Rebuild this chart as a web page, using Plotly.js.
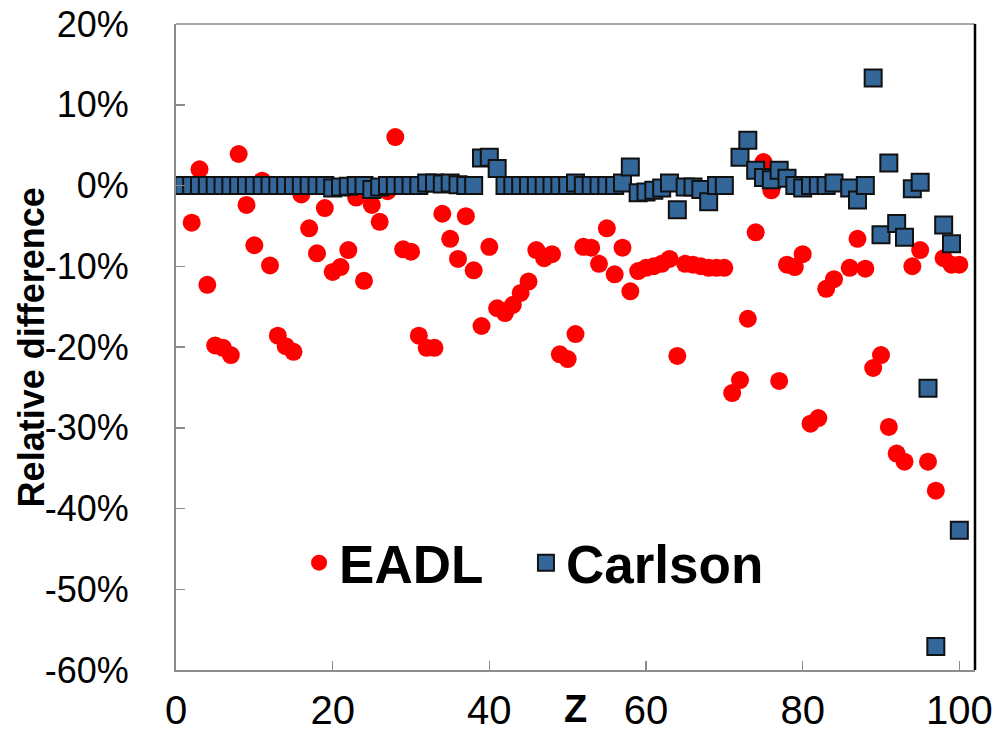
<!DOCTYPE html>
<html>
<head>
<meta charset="utf-8">
<script src="https://cdn.plot.ly/plotly-3.0.1.min.js"></script>
<style>html,body{margin:0;padding:0;background:#fff;}#chart{width:997px;height:732px;}</style>
</head>
<body>
<div id="chart"></div>
<script>
// Atomic number Z
const zValues = Array.from({length: 100}, (_, i) => i + 1);

// Relative difference (%) - EADL
const eadl = [
  0.0, -4.6, 2.0, -12.3, -19.8, -20.1, -21.0, 3.9, -2.4, -7.4,
  0.6, -9.9, -18.6, -19.9, -20.6, -1.1, -5.3, -8.4, -2.8, -10.7,
  -10.1, -8.0, -1.5, -11.8, -2.4, -4.5, -0.7, 6.0, -7.9, -8.2,
  -18.6, -20.1, -20.1, -3.5, -6.6, -9.1, -3.8, -10.5, -17.4, -7.6,
  -15.2, -15.8, -14.8, -13.3, -11.9, -8.0, -9.0, -8.5, -20.9, -21.5,
  -18.4, -7.6, -7.7, -9.7, -5.3, -11.0, -7.7, -13.1, -10.6, -10.2,
  -10.0, -9.7, -9.1, -21.1, -9.7, -9.8, -10.0, -10.2, -10.2, -10.2,
  -25.7, -24.1, -16.5, -5.8, 2.9, -0.6, -24.2, -9.8, -10.1, -8.5,
  -29.5, -28.8, -12.8, -11.6, null, -10.2, -6.6, -10.3, -22.6, -21.0,
  -29.9, -33.2, -34.2, -10.0, -8.0, -34.2, -37.8, -9.0, -9.8, -9.8
];

// Relative difference (%) - Carlson
const carlson = [
  0.0, 0.0, 0.0, 0.0, 0.0, 0.0, 0.0, 0.0, 0.0, 0.0,
  0.0, 0.0, 0.0, 0.0, 0.0, 0.0, 0.0, 0.0, 0.0, -0.3,
  -0.2, -0.1, 0.0, 0.0, -0.5, -0.2, 0.0, 0.0, 0.0, 0.0,
  0.0, 0.3, 0.3, 0.2, 0.3, 0.1, 0.0, 0.0, 3.4, 3.5,
  2.1, 0.0, 0.0, 0.0, 0.0, 0.0, 0.0, 0.0, 0.0, 0.0,
  0.3, 0.0, 0.0, 0.0, 0.0, 0.0, 0.3, 2.3, -0.9, -0.8,
  -0.6, -0.3, 0.3, -3.0, -0.2, -0.2, -0.5, -2.0, 0.0, 0.0,
  null, 3.5, 5.6, 1.9, 1.0, 0.7, 1.9, 0.9, 0.0, -0.3,
  0.0, 0.0, 0.0, 0.3, null, -0.3, -1.8, 0.0, 13.3, -6.1,
  2.8, -4.7, -6.4, -0.4, 0.4, -25.1, -57.1, -4.9, -7.2, -42.7
];

const yTickVals = [20, 10, 0, -10, -20, -30, -40, -50, -60];
const xTickVals = [0, 20, 40, 60, 80, 100];

const traces = [
  {
    x: zValues, y: eadl, name: 'EADL', type: 'scatter', mode: 'markers', legend: 'legend',
    marker: {symbol: 'circle', size: 18, color: '#FF0000', line: {width: 0}}
  },
  {
    x: zValues, y: carlson, name: 'Carlson', type: 'scatter', mode: 'markers', legend: 'legend2',
    marker: {symbol: 'square', size: 17, color: '#336699', line: {width: 2, color: '#111111'}}
  }
];

const legendFont = {size: 53, family: 'Liberation Sans, Arial, sans-serif', weight: 'bold'};

const layout = {
  width: 997, height: 732,
  margin: {l: 176, r: 22, t: 24, b: 62},
  paper_bgcolor: '#ffffff', plot_bgcolor: '#ffffff',
  font: {family: 'Liberation Sans, Arial, sans-serif', color: '#000'},
  showlegend: true,
  legend: {
    orientation: 'h', x: 0.154, y: 0.166, xanchor: 'left', yanchor: 'middle',
    bgcolor: 'rgba(0,0,0,0)', font: legendFont, itemsizing: 'trace'
  },
  legend2: {
    orientation: 'h', x: 0.438, y: 0.166, xanchor: 'left', yanchor: 'middle',
    bgcolor: 'rgba(0,0,0,0)', font: legendFont, itemsizing: 'trace'
  },
  xaxis: {
    range: [0, 102], tickvals: xTickVals, ticktext: xTickVals.map(String),
    showgrid: false, zeroline: false, showline: true, linecolor: '#8c8c8c', linewidth: 2,
    ticks: 'inside', ticklen: 9, tickwidth: 1.5, tickcolor: '#8c8c8c',
    tickfont: {size: 40},
    ticklabelstandoff: 4
  },
  yaxis: {
    range: [-60, 20], tickvals: yTickVals, ticktext: yTickVals.map(v => v + '%'),
    showgrid: false, zeroline: false, showline: true, linecolor: '#8c8c8c', linewidth: 2,
    ticks: 'inside', ticklen: 9, tickwidth: 1.5, tickcolor: '#8c8c8c',
    tickfont: {size: 36},
    ticklabelstandoff: 38
  },
  shapes: [
    {type: 'line', xref: 'paper', yref: 'paper', x0: 0, x1: 1, y0: 1, y1: 1, line: {color: '#8c8c8c', width: 1.5}},
    {type: 'line', xref: 'paper', yref: 'paper', x0: 1, x1: 1, y0: 0, y1: 1, line: {color: '#000000', width: 2.5}}
  ],
  annotations: [
    {text: '<b>Relative difference</b>', xref: 'paper', yref: 'paper', x: -0.181, y: 0.5, textangle: -90,
     showarrow: false, xanchor: 'center', yanchor: 'middle', font: {size: 36}},
    {text: '<b>Z</b>', xref: 'paper', yref: 'paper', x: 0.5, y: -0.06, showarrow: false,
     xanchor: 'center', yanchor: 'middle', font: {size: 38}}
  ]
};

Plotly.newPlot('chart', traces, layout, {displayModeBar: false, staticPlot: true});
</script>
</body>
</html>
